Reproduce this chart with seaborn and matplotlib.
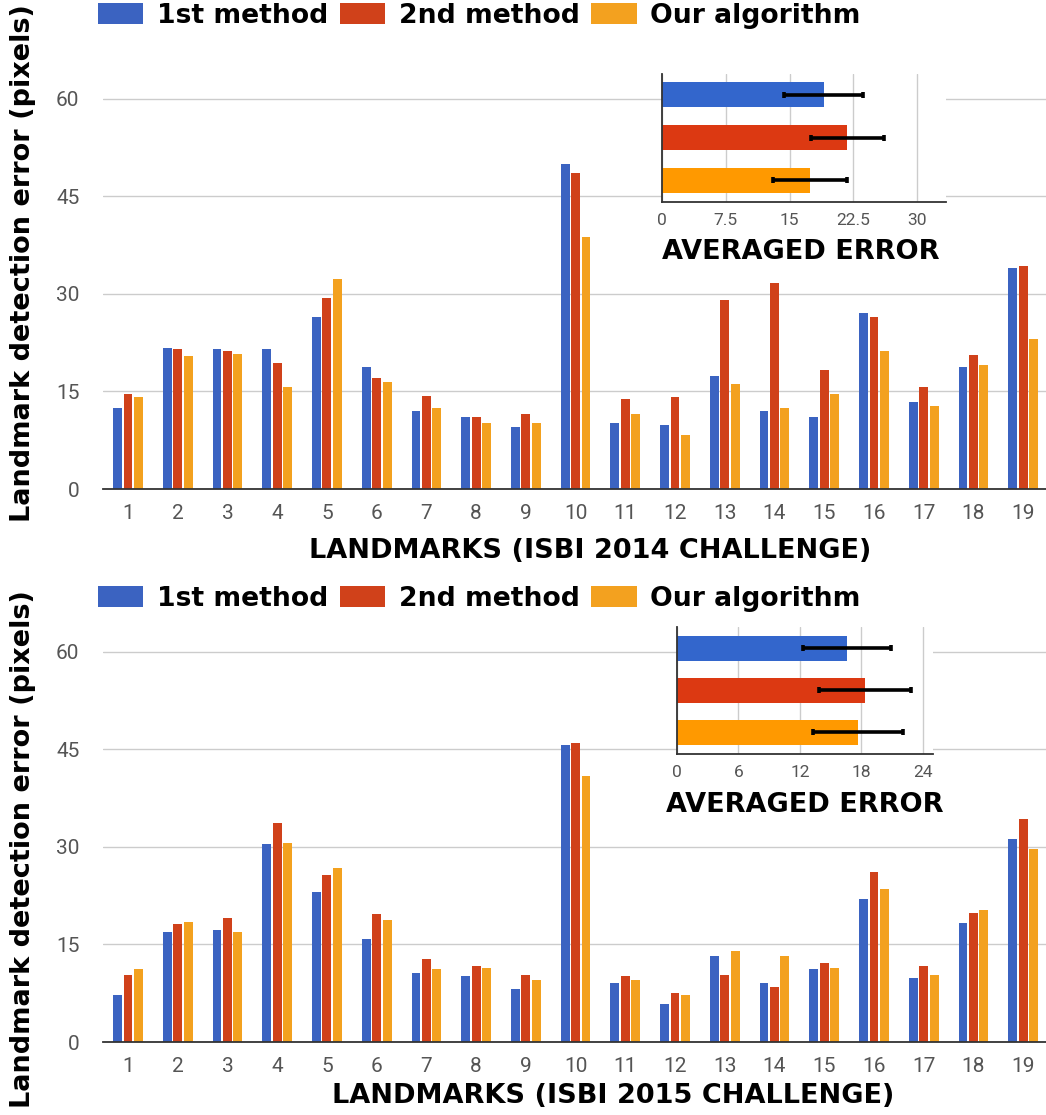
import numpy as np
import pandas as pd
import matplotlib
matplotlib.use("Agg")
import matplotlib.pyplot as plt
import seaborn as sns

# ---- data -------------------------------------------------------------
landmarks = [str(i) for i in range(1, 20)]
methods = ["1st method", "2nd method", "Our algorithm"]

err_2014_first = [12.5, 21.7, 21.5, 21.5, 26.5, 18.8, 12.0, 11.0, 9.6, 49.9,
                  10.1, 9.9, 17.3, 12.0, 11.0, 27.0, 13.3, 18.8, 34.0]
err_2014_second = [14.6, 21.5, 21.2, 19.4, 29.4, 17.0, 14.3, 11.0, 11.5, 48.6,
                   13.8, 14.1, 29.1, 31.7, 18.3, 26.5, 15.7, 20.6, 34.3]
err_2014_ours = [14.1, 20.4, 20.7, 15.7, 32.3, 16.5, 12.5, 10.1, 10.1, 38.8,
                 11.5, 8.3, 16.2, 12.5, 14.6, 21.2, 12.8, 19.0, 23.0]

err_2015_first = [7.2, 16.9, 17.2, 30.4, 23.0, 15.9, 10.6, 10.1, 8.2, 45.6,
                  9.1, 5.9, 13.2, 9.1, 11.2, 22.0, 9.8, 18.3, 31.2]
err_2015_second = [10.3, 18.2, 19.0, 33.6, 25.6, 19.6, 12.7, 11.7, 10.3, 45.9,
                   10.1, 7.5, 10.3, 8.5, 12.2, 26.1, 11.7, 19.8, 34.3]
err_2015_ours = [11.2, 18.5, 16.9, 30.6, 26.7, 18.8, 11.2, 11.4, 9.6, 40.9,
                 9.6, 7.2, 14.0, 13.2, 11.4, 23.5, 10.3, 20.3, 29.6]

avg_2014 = [19.0, 21.8, 17.4]
std_2014 = [4.6, 4.3, 4.3]
avg_2015 = [16.6, 18.4, 17.7]
std_2015 = [4.3, 4.5, 4.4]

main_yticks = [0, 15, 30, 45, 60]
inset_ticks_2014 = [0, 7.5, 15, 22.5, 30]
inset_ticks_2015 = [0, 6, 12, 18, 24]

# ---- style ------------------------------------------------------------
sns.set_style("white")
plt.rcParams["font.family"] = ["DejaVu Sans"]
plt.rcParams["text.color"] = "black"

bar_colors = ["#3B63C1", "#D0411A", "#F3A11F"]
inset_colors = ["#3366CC", "#DC3912", "#FF9900"]
tick_color = "#555555"
grid_color = "#cccccc"
axis_color = "#333333"

W, H = 1046, 1115
fig = plt.figure(figsize=(W / 100, H / 100), dpi=100)


def rect(left, top, right, bottom):
    """Axes rectangle from pixel edges."""
    return [left / W, 1 - bottom / H, (right - left) / W, (bottom - top) / H]


def fx(x):
    return x / W


def fy(y):
    return 1 - y / H


def tick_font(size):
    return dict(family="Roboto", weight="normal", size=size, color=tick_color)


def draw_panel(top_px, bottom_px, series, avg, std, inset_box, inset_xmax,
               inset_ticks, inset_title_xy, legend_y, xlabel, xlabel_xy,
               ylabel_xy):
    # main grouped bar chart
    ax = fig.add_axes(rect(103, top_px, W, bottom_px))
    df = pd.DataFrame({
        "Landmark": np.tile(landmarks, len(methods)),
        "Method": np.repeat(methods, len(landmarks)),
        "Error": np.concatenate(series),
    })
    sns.barplot(data=df, x="Landmark", y="Error", hue="Method",
                palette=bar_colors, width=0.63, gap=0.15, saturation=1,
                linewidth=0, ax=ax)
    ax.set_xlim(-0.503, 18.46)
    ax.set_ylim(0, 65)
    ax.set_yticks(main_yticks)
    ax.set_axisbelow(True)
    ax.yaxis.grid(True, color=grid_color, linewidth=1)
    ax.xaxis.grid(False)
    for side in ("left", "right", "top"):
        ax.spines[side].set_visible(False)
    ax.spines["bottom"].set_color(axis_color)
    ax.spines["bottom"].set_linewidth(1.3)
    ax.tick_params(axis="both", length=0)
    ax.tick_params(axis="y", pad=17)
    ax.tick_params(axis="x", pad=11)
    for lab in ax.get_xticklabels() + ax.get_yticklabels():
        lab.set(**tick_font(15))
    ax.set_xlabel("")
    ax.set_ylabel("")

    sns.move_legend(ax, "center left",
                    bbox_to_anchor=(fx(98), fy(legend_y)),
                    bbox_transform=fig.transFigure, ncol=3, title=None,
                    frameon=False, prop=dict(weight="bold", size=19.2),
                    labelcolor="black",
                    handlelength=1.7, handleheight=0.82,
                    handletextpad=0.5, columnspacing=0.45,
                    borderpad=0, borderaxespad=0)

    fig.text(fx(xlabel_xy[0]), fy(xlabel_xy[1]), xlabel, ha="center",
             va="center", fontsize=19.5, fontweight="bold", color="black")
    fig.text(fx(ylabel_xy[0]), fy(ylabel_xy[1]),
             "Landmark detection error (pixels)", ha="center", va="center",
             rotation=90, fontsize=19.5, fontweight="bold", color="black")

    # inset: averaged error with spread
    ins = fig.add_axes(rect(*inset_box))
    ins.set_facecolor("white")
    sns.barplot(x=avg, y=methods, hue=methods, palette=inset_colors,
                orient="h", width=0.59, saturation=1, linewidth=0,
                legend=False, ax=ins)
    ins.errorbar(avg, range(len(methods)), xerr=std, fmt="none",
                 ecolor="black", elinewidth=2.6, capsize=2.2, capthick=2.6)
    ins.set_xlim(0, inset_xmax)
    ins.set_ylim(2.5, -0.5)
    ins.set_xticks(inset_ticks)
    ins.set_xticklabels([f"{t:g}" for t in inset_ticks])
    ins.set_yticks([])
    ins.set_axisbelow(True)
    ins.xaxis.grid(True, color=grid_color, linewidth=1)
    ins.yaxis.grid(False)
    for side in ("right", "top"):
        ins.spines[side].set_visible(False)
    for side in ("left", "bottom"):
        ins.spines[side].set_color(axis_color)
        ins.spines[side].set_linewidth(1.3)
    ins.tick_params(axis="x", length=0, pad=8)
    for lab in ins.get_xticklabels():
        lab.set(**tick_font(12.5))
    ins.set_xlabel("")
    ins.set_ylabel("")
    fig.text(fx(inset_title_xy[0]), fy(inset_title_xy[1]), "AVERAGED ERROR",
             ha="center", va="center", fontsize=19.5, fontweight="bold",
             color="black")


# ISBI 2014 panel
draw_panel(66, 489,
           [err_2014_first, err_2014_second, err_2014_ours],
           avg_2014, std_2014,
           (662, 73.5, 946, 201.5), 33.4, inset_ticks_2014, (801, 252),
           16, "LANDMARKS (ISBI 2014 CHALLENGE)", (590, 551), (23, 263))

# ISBI 2015 panel
draw_panel(619, 1042,
           [err_2015_first, err_2015_second, err_2015_ours],
           avg_2015, std_2015,
           (677, 627, 933, 753.5), 25, inset_ticks_2015, (805, 805),
           599, "LANDMARKS (ISBI 2015 CHALLENGE)", (613, 1096), (23, 849))

fig.savefig("out.png", dpi=100, facecolor="white")
